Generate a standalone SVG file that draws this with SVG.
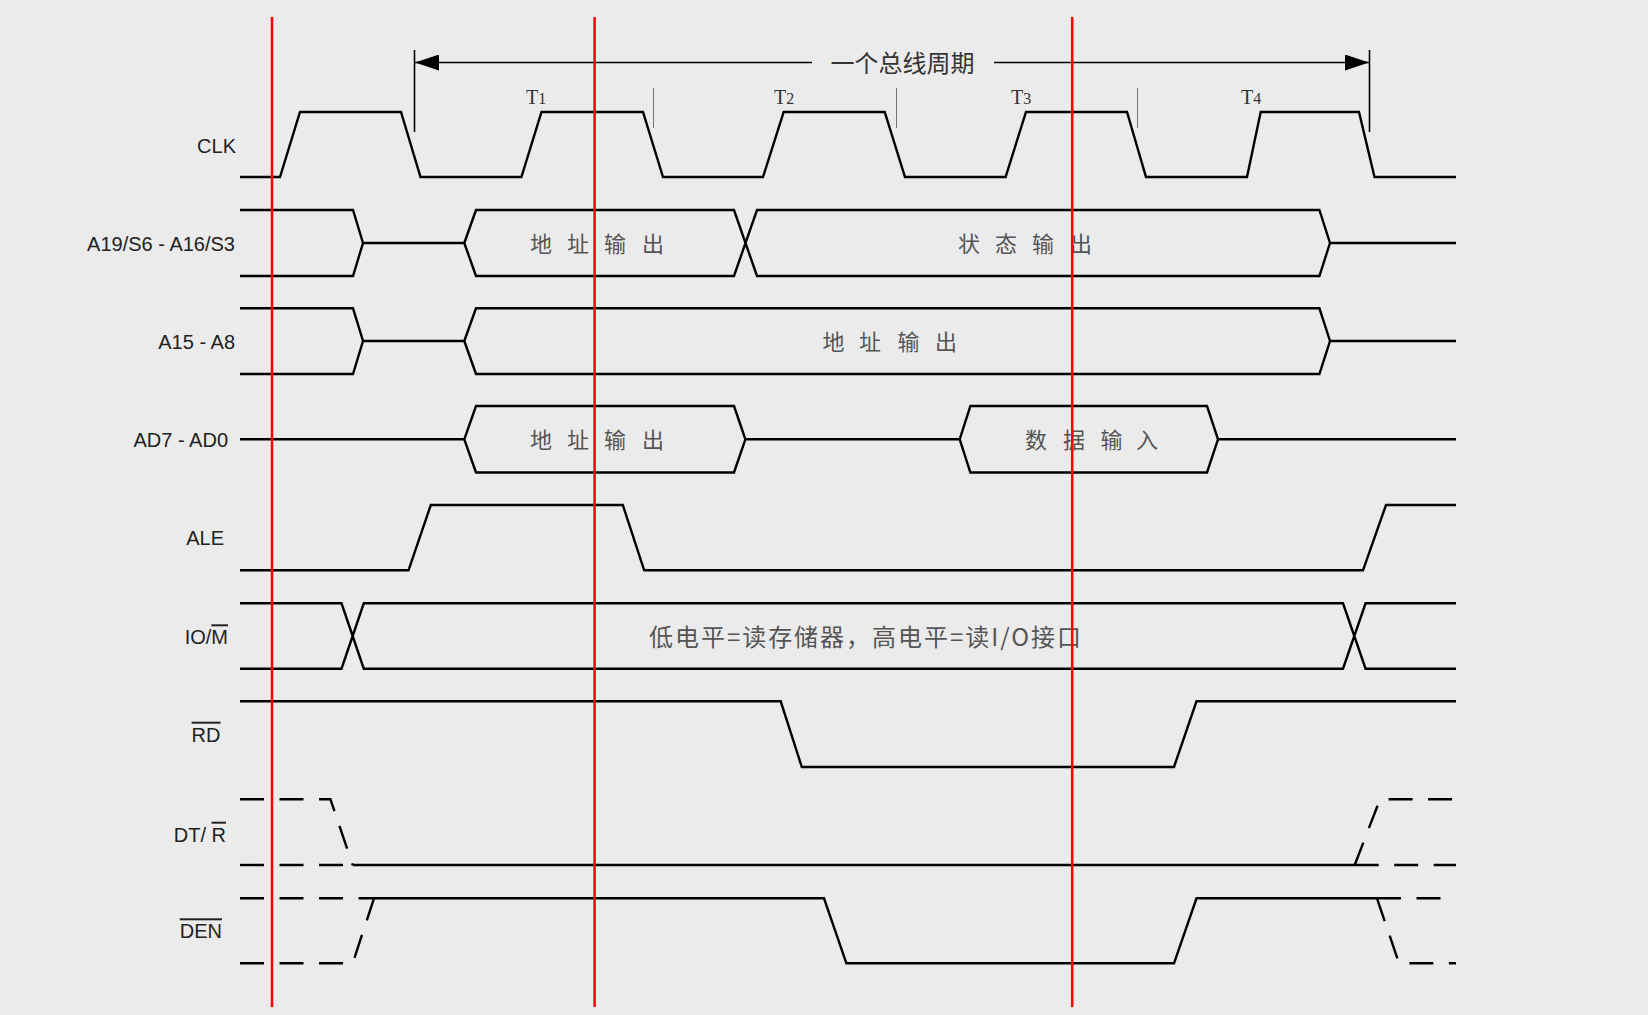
<svg xmlns="http://www.w3.org/2000/svg" width="1648" height="1015" viewBox="0 0 1648 1015">
<style>
.sig{fill:none;stroke:#000;stroke-width:2.4;stroke-linejoin:miter}
.dash{fill:none;stroke:#000;stroke-width:2.4;stroke-dasharray:24 15.5}
.red{stroke:#ff0000;stroke-width:2.5}
.lbl{font-family:"Liberation Sans",Arial,sans-serif;font-size:20px;fill:#222;text-anchor:end}
.cjk{font-family:"Noto Sans CJK SC","Noto Sans CJK JP",sans-serif;font-size:22px;fill:#555}
.tl{font-family:"Liberation Serif","Times New Roman",serif;font-size:20px;fill:#333}
.tick{stroke:#777;stroke-width:1}
.brk{stroke:#000;stroke-width:1.6}
</style>
<defs>
<marker id="ah" viewBox="0 0 24 16" refX="24" refY="8" markerWidth="24" markerHeight="16" markerUnits="userSpaceOnUse" orient="auto-start-reverse">
<path d="M0,0 L24,8 L0,16 Z" fill="#000"/>
</marker>
</defs>
<rect width="1648" height="1015" fill="#ebebeb"/>

<g id="bus-cycle">
<line class="brk" x1="414.5" y1="50" x2="414.5" y2="132"/>
<line class="brk" x1="1369.5" y1="50" x2="1369.5" y2="132"/>
<line class="brk" x1="415" y1="62.5" x2="812" y2="62.5" marker-start="url(#ah)"/>
<line class="brk" x1="994" y1="62.5" x2="1369" y2="62.5" marker-end="url(#ah)"/>
<text x="902.5" y="72" text-anchor="middle" style="font-family:'Noto Sans CJK SC',sans-serif;font-size:24px;fill:#333">一个总线周期</text>
<line class="tick" x1="653.5" y1="88" x2="653.5" y2="128"/>
<line class="tick" x1="896.5" y1="88" x2="896.5" y2="128"/>
<line class="tick" x1="1137.5" y1="88" x2="1137.5" y2="128"/>
<text class="tl" x="526" y="103.5">T<tspan font-size="16">1</tspan></text>
<text class="tl" x="774" y="103.5">T<tspan font-size="16">2</tspan></text>
<text class="tl" x="1011" y="103.5">T<tspan font-size="16">3</tspan></text>
<text class="tl" x="1241" y="103.5">T<tspan font-size="16">4</tspan></text>
</g>

<g id="labels">
<text class="lbl" x="236" y="152.7">CLK</text>
<text class="lbl" x="235" y="251">A19/S6 - A16/S3</text>
<text class="lbl" x="235" y="349.3">A15 - A8</text>
<text class="lbl" x="228" y="446.7">AD7 - AD0</text>
<text class="lbl" x="224" y="545">ALE</text>
<text class="lbl" x="228" y="644.3">IO/<tspan text-decoration="overline">M</tspan></text>
<text class="lbl" x="220.5" y="741.7"><tspan text-decoration="overline">RD</tspan></text>
<text class="lbl" x="226" y="841.7">DT/ <tspan text-decoration="overline">R</tspan></text>
<text class="lbl" x="222" y="938.3"><tspan text-decoration="overline">DEN</tspan></text>
</g>

<g id="connectors">
<path id="clk" class="sig" d="M240,177 H280 L300,112 H401 L420.5,177 H521.4 L541.5,112 H643 L663,177 H763 L783.7,112 H884.7 L905,177 H1005.6 L1026,112 H1127 L1146,177 H1247 L1260.7,112 H1359 L1374.5,177 H1456"/>

<path class="sig" d="M240,210 H353 L363,243 L353,276 H240 M363,243 H464.3 M464.3,243 L476,210 H734 L757,276 H1319.4 L1330,243 M464.3,243 L476,276 H734 L757,210 H1319.4 L1330,243 M1330,243 H1456"/>

<path class="sig" d="M240,308.3 H353 L363,341 L353,374 H240 M363,341 H464.3 L476,308.3 H1319.4 L1330,341 L1319.4,374 H476 L464.3,341 M1330,341 H1456"/>

<path class="sig" d="M240,439.3 H464.3 L476,406 H734 L745.4,439.3 L734,472.5 H476 L464.3,439.3 M745.4,439.3 H959.7 L970.4,406 H1207 L1218,439.3 L1207,472.5 H970.4 L959.7,439.3 M1218,439.3 H1456"/>

<path class="sig" d="M240,570.3 H408.5 L430.8,505 H622.8 L644.2,570.3 H1363 L1386,505 H1456"/>

<path class="sig" d="M240,603.3 H341.5 L363.8,668.7 H1343 L1365.6,603.3 H1456 M240,668.7 H341.5 L363.8,603.3 H1343 L1365.6,668.7 H1456"/>

<path class="sig" d="M240,701.3 H780.7 L801.8,767 H1174 L1196.5,701.3 H1456"/>

<path class="dash" d="M240,799.3 H330.4 L352.7,865"/>
<path class="dash" d="M240,865 H352.7"/>
<path class="sig" d="M352.7,865 H1354.7"/>
<path class="dash" d="M1354.7,865 L1380,799.3 H1456"/>
<path class="dash" d="M1354.7,865 H1456"/>

<path class="dash" d="M240,898.3 H374"/>
<path class="dash" d="M240,963.3 H352.7 L374,898.3"/>
<path class="sig" d="M374,898.3 H824 L846.4,963.3 H1174 L1196.5,898.3 H1377"/>
<path class="dash" d="M1377,898.3 L1399,963.3 H1456"/>
<path class="dash" d="M1377,898.3 H1456"/>
</g>

<g id="box-texts">
<text class="cjk" y="251.5" x="530 549 567 586 604 623 642">地 址 输 出</text>
<text class="cjk" y="251.5" x="958 977 995 1014 1032 1051 1070">状 态 输 出</text>
<text class="cjk" y="349.5" x="822.5 841 859 878 897.5 916 935">地 址 输 出</text>
<text class="cjk" y="447.5" x="530 549 567 586 604 623 642">地 址 输 出</text>
<text class="cjk" y="447.5" x="1025 1044 1063 1082 1100.5 1119 1136">数 据 输 入</text>
<text class="cjk" x="649" y="645.5" style="font-size:24px" textLength="432" lengthAdjust="spacing">低电平=读存储器，高电平=读I/O接口</text>
</g>

<g id="markers">
<line class="red" x1="272" y1="17" x2="272" y2="1007"/>
<line class="red" x1="594.6" y1="17" x2="594.6" y2="1007"/>
<line class="red" x1="1072.2" y1="17" x2="1072.2" y2="1007"/>
</g>
</svg>
